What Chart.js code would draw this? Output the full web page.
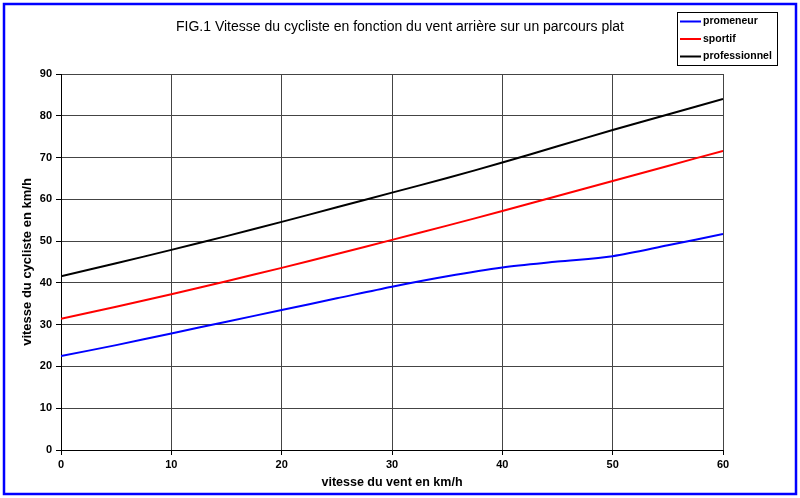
<!DOCTYPE html>
<html>
<head>
<meta charset="utf-8">
<script src="https://cdn.jsdelivr.net/npm/chart.js@4/dist/chart.umd.min.js"></script>
<style>
  html, body { margin: 0; padding: 0; background: #fff; }
  #wrap { width: 800px; height: 498px; position: relative; }
</style>
</head>
<body>
<div id="wrap"><canvas id="chart" width="800" height="498"></canvas></div>
<script>
// vitesse du vent (km/h)
const wind = [0, 5, 10, 15, 20, 25, 30, 35, 40, 45, 50, 55, 60];

// vitesse du cycliste (km/h)
const promeneur = [22.5, 25.1, 27.9, 30.7, 33.5, 36.3, 39.1, 41.6, 43.7, 45.1, 46.4, 49.0, 51.7];
const sportif = [31.4, 34.3, 37.3, 40.4, 43.6, 46.9, 50.3, 53.7, 57.2, 60.8, 64.4, 68.0, 71.6];
const professionnel = [41.6, 44.7, 47.9, 51.2, 54.6, 58.1, 61.6, 65.1, 68.8, 72.7, 76.6, 80.3, 84.0];

const seriesNames = ['promeneur', 'sportif', 'professionnel'];
const seriesColors = ['#0000ff', '#ff0000', '#000000'];

const FONT = "'Liberation Sans', Arial, sans-serif";

const toPoints = (vals) => vals.map((v, i) => ({ x: wind[i], y: v }));

// blue frame round the whole picture + boxed legend in the top right corner
const framePlugin = {
    id: 'frame',
    beforeDraw(chart) {
        const ctx = chart.ctx;
        ctx.save();
        ctx.fillStyle = '#fff';
        ctx.fillRect(0, 0, chart.width, chart.height);
        ctx.restore();
    },
    afterDraw(chart) {
        const ctx = chart.ctx;
        ctx.save();
        ctx.strokeStyle = '#0000ff';
        ctx.lineWidth = 2.5;
        ctx.strokeRect(4, 4, 792, 490);

        // legend
        ctx.fillStyle = '#fff';
        ctx.fillRect(677, 12, 100, 53);
        ctx.strokeStyle = '#000';
        ctx.lineWidth = 1;
        ctx.strokeRect(677.5, 12.5, 100, 53);
        ctx.font = 'bold 10.5px ' + FONT;
        ctx.textBaseline = 'middle';
        chart.data.datasets.forEach((ds, i) => {
            const y = 21.5 + i * 17.5;
            ctx.strokeStyle = ds.borderColor;
            ctx.lineWidth = 2;
            ctx.beginPath();
            ctx.moveTo(680, y);
            ctx.lineTo(701, y);
            ctx.stroke();
            ctx.fillStyle = '#000';
            ctx.fillText(ds.label, 703, y);
        });
        ctx.restore();
    }
};

new Chart(document.getElementById('chart'), {
    type: 'line',
    data: {
        datasets: [promeneur, sportif, professionnel].map((vals, i) => ({
            label: seriesNames[i],
            data: toPoints(vals),
            borderColor: seriesColors[i],
            backgroundColor: seriesColors[i],
            borderWidth: 2,
            pointRadius: 0,
            tension: 0.3,
            fill: false
        }))
    },
    options: {
        responsive: false,
        animation: false,
        layout: { padding: 0 },
        scales: {
            x: {
                type: 'linear',
                min: 0,
                max: 60,
                afterFit: (s) => { s.height = 48; },
                ticks: {
                    stepSize: 10,
                    color: '#000',
                    padding: 3,
                    maxRotation: 0,
                    font: { family: FONT, size: 11, weight: 'bold' }
                },
                grid: { color: '#444', tickColor: '#000', tickLength: 5, lineWidth: 1 },
                border: { color: '#000', width: 1 },
                title: {
                    display: true,
                    text: 'vitesse du vent en km/h',
                    color: '#000',
                    padding: { top: 0, bottom: 8 },
                    font: { family: FONT, size: 12.5, weight: 'bold' }
                }
            },
            y: {
                min: 0,
                max: 90,
                afterFit: (s) => { s.width = 61; },
                ticks: {
                    stepSize: 10,
                    color: '#000',
                    padding: 4,
                    font: { family: FONT, size: 11, weight: 'bold' }
                },
                grid: { color: '#444', tickColor: '#000', tickLength: 5, lineWidth: 1 },
                border: { color: '#000', width: 1 },
                title: {
                    display: true,
                    text: 'vitesse du cycliste en km/h',
                    color: '#000',
                    padding: { top: 20, bottom: 0 },
                    font: { family: FONT, size: 13, weight: 'bold' }
                }
            },
            // empty right-hand axis, only reserves the blank strip under the legend
            spacer: {
                position: 'right',
                min: 0,
                max: 1,
                afterFit: (s) => { s.width = 77; },
                ticks: { display: false },
                grid: { display: false },
                border: { display: false }
            }
        },
        plugins: {
            legend: { display: false },
            tooltip: { enabled: false },
            title: {
                display: true,
                text: 'FIG.1 Vitesse du cycliste en fonction du vent arrière sur un parcours plat',
                color: '#000',
                padding: { top: 19, bottom: 38.2 },
                font: { family: FONT, size: 14, weight: 'normal', lineHeight: 1.2 }
            }
        }
    },
    plugins: [framePlugin]
});
</script>
</body>
</html>
